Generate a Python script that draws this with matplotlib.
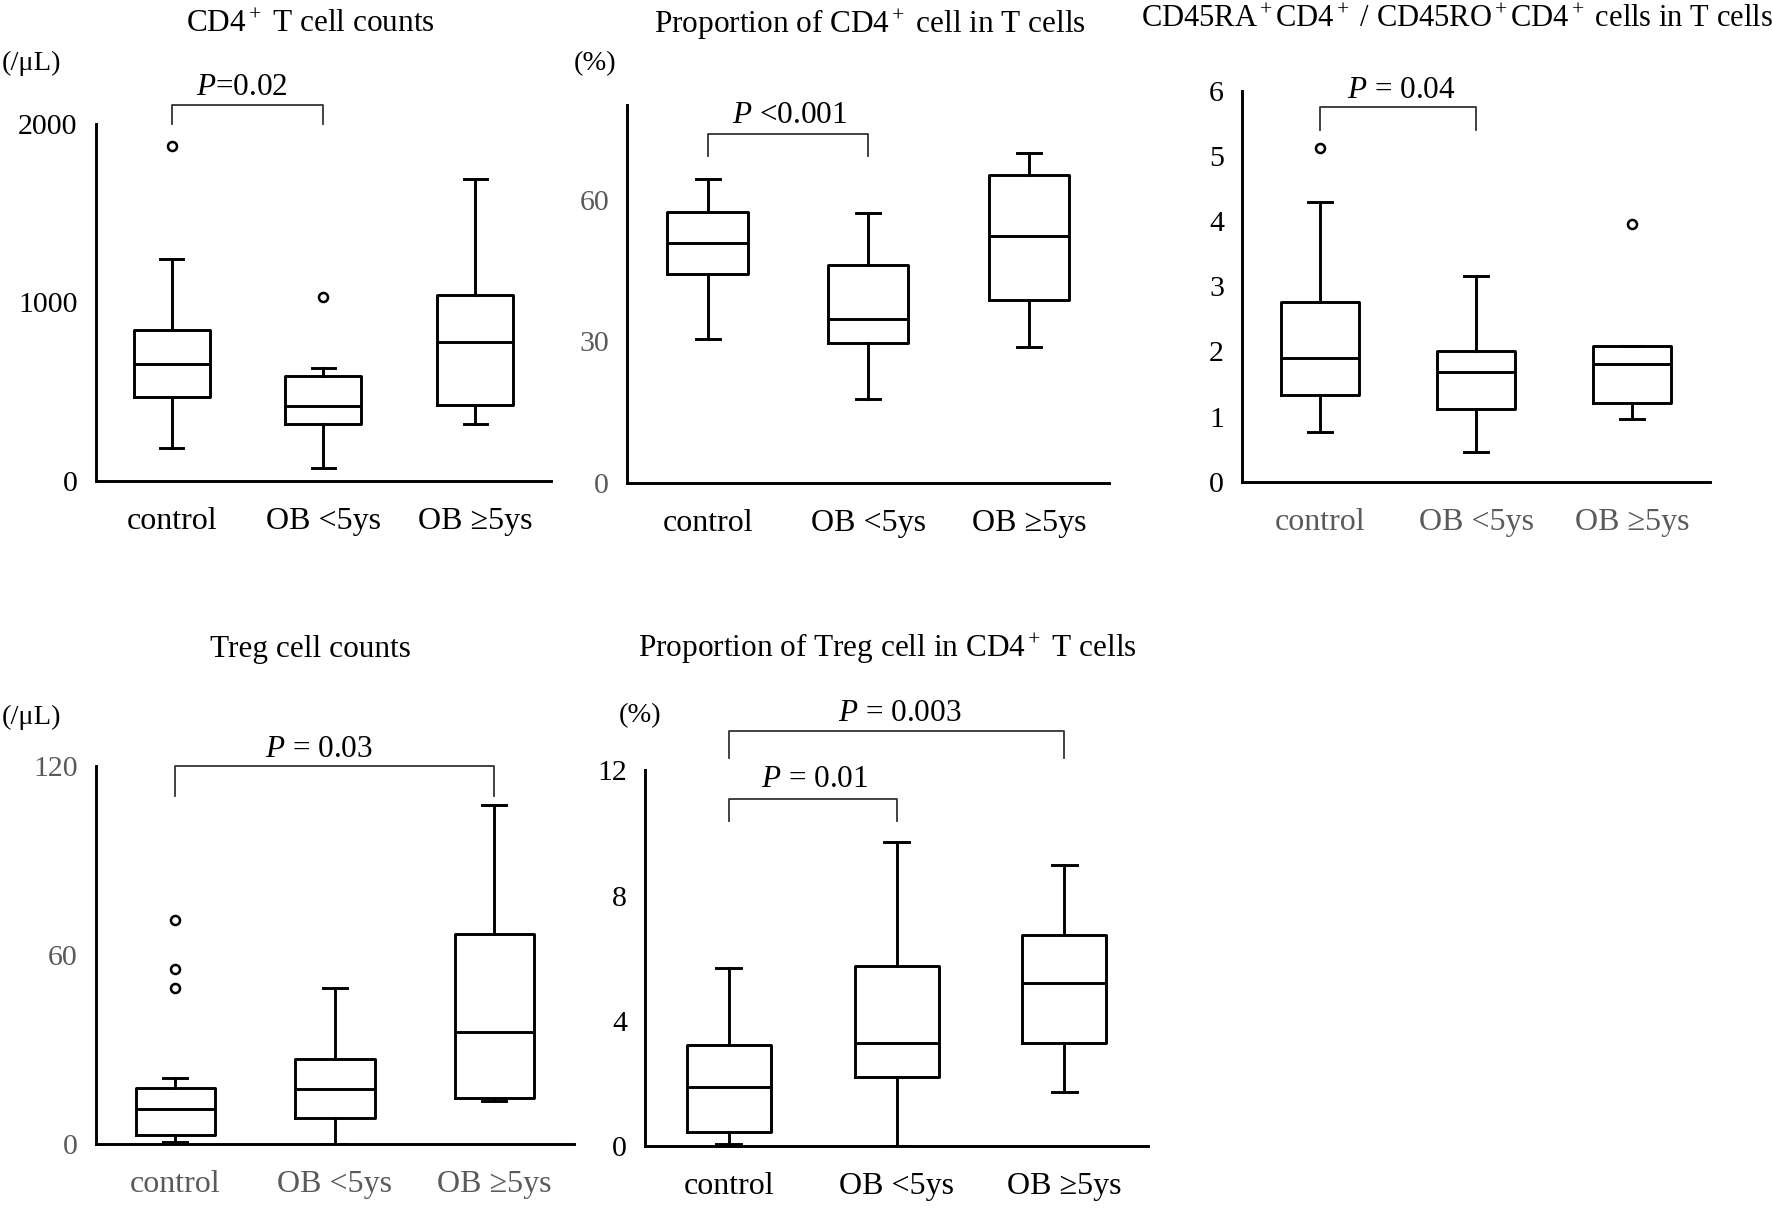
import matplotlib
matplotlib.use('Agg')
from matplotlib import pyplot as plt

# Fonts: Times-like serif everywhere, italic P through mathtext
plt.rcParams['font.family'] = ['Liberation Serif', 'DejaVu Serif']
plt.rcParams['mathtext.fontset'] = 'custom'
plt.rcParams['mathtext.rm'] = 'Liberation Serif'
plt.rcParams['mathtext.it'] = 'Liberation Serif:italic'

GROUPS = ['control', 'OB <5ys', 'OB \u22655ys']

# CD4+ T cell counts (/uL)
CD4_COUNT_LO = [184, 68, 315]
CD4_COUNT_Q1 = [468, 319, 426]
CD4_COUNT_MED = [652, 416, 778]
CD4_COUNT_Q3 = [845, 586, 1039]
CD4_COUNT_HI = [1244, 629, 1692]
CD4_COUNT_FLIERS = [[1876], [1031], []]

# Proportion of CD4+ cell in T cells (%)
CD4_PROP_LO = [30.5, 17.9, 28.8]
CD4_PROP_Q1 = [44.2, 29.7, 38.8]
CD4_PROP_MED = [50.9, 34.7, 52.3]
CD4_PROP_Q3 = [57.4, 46.1, 65.2]
CD4_PROP_HI = [64.4, 57.2, 69.8]
CD4_PROP_FLIERS = [[], [], []]

# CD45RA+CD4+ / CD45RO+CD4+ ratio
RATIO_LO = [0.77, 0.46, 0.96]
RATIO_Q1 = [1.33, 1.12, 1.21]
RATIO_MED = [1.90, 1.68, 1.80]
RATIO_Q3 = [2.75, 2.00, 2.08]
RATIO_HI = [4.29, 3.15, 2.08]
RATIO_FLIERS = [[5.12], [], [3.96]]

# Treg cell counts (/uL)
TREG_COUNT_LO = [0.6, 0.0, 13.7]
TREG_COUNT_Q1 = [2.7, 8.4, 14.6]
TREG_COUNT_MED = [11.2, 17.6, 35.5]
TREG_COUNT_Q3 = [17.8, 27.0, 66.7]
TREG_COUNT_HI = [21.0, 49.4, 107.6]
TREG_COUNT_FLIERS = [[71.1, 55.5, 49.6], [], []]

# Proportion of Treg cell in CD4+ T cells (%)
TREG_PROP_LO = [0.07, 0.0, 1.72]
TREG_PROP_Q1 = [0.43, 2.21, 3.29]
TREG_PROP_MED = [1.87, 3.28, 5.21]
TREG_PROP_Q3 = [3.23, 5.74, 6.75]
TREG_PROP_HI = [5.68, 9.71, 8.97]
TREG_PROP_FLIERS = [[], [], []]

# Significance brackets: (from group, to group, bar height, drop, label, label x, label y)
CD4_COUNT_P = [(1, 2, 2105, 105, r'$P$=0.02', 1.46, 2203)]
CD4_PROP_P = [(1, 2, 73.9, 4.6, r'$P$ <0.001', 1.51, 77.9)]
RATIO_P = [(1, 2, 5.74, 0.34, r'$P$ = 0.04', 1.52, 6.0)]
TREG_COUNT_P = [(1, 3, 120, 9.4, r'$P$ = 0.03', 1.9, 125.3)]
TREG_PROP_P = [(1, 2, 11.1, 0.7, r'$P$ = 0.01', 1.51, 11.72),
               (1, 3, 13.26, 0.86, r'$P$ = 0.003', 2.02, 13.83)]


def make_stats(lo, q1, med, q3, hi, fliers):
    return [{'whislo': lo[i], 'q1': q1[i], 'med': med[i], 'q3': q3[i],
             'whishi': hi[i], 'fliers': fliers[i]} for i in range(len(med))]


def draw_panel(ax, stats, ylim, yticks, brackets, ytick_color='black', xtick_color='black'):
    line = dict(color='black', linewidth=2.1)
    ax.bxp(stats, positions=[1, 2, 3], widths=0.5, capwidths=0.15,
           boxprops=line, whiskerprops=line, capprops=line, medianprops=line,
           flierprops=dict(marker='o', markersize=6.5, markerfacecolor='white',
                           markeredgecolor='black', markeredgewidth=1.8))

    ax.set_xlim(0.5, 3.5)
    ax.set_ylim(*ylim)
    ax.set_yticks(yticks)
    ax.set_xticks([1, 2, 3])
    ax.set_xticklabels(GROUPS)
    ax.tick_params(axis='y', length=0, pad=13, labelsize=21.5, labelcolor=ytick_color)
    ax.tick_params(axis='x', length=0, pad=19, labelsize=23, labelcolor=xtick_color)

    for side in ['top', 'right']:
        ax.spines[side].set_visible(False)
    for side in ['left', 'bottom']:
        ax.spines[side].set_linewidth(2.1)

    # P value brackets
    for x1, x2, y, drop, label, tx, ty in brackets:
        ax.plot([x1, x1, x2, x2], [y - drop, y, y, y - drop], color='#333333',
                lw=1.3, clip_on=False)
        ax.text(tx, ty, label, ha='center', va='center', fontsize=22.5, clip_on=False)


def main():
    fig = plt.figure(figsize=(17.72, 12.23), dpi=100)

    ax1 = fig.add_axes([0.054, 0.607, 0.257, 0.292])
    draw_panel(ax1, make_stats(CD4_COUNT_LO, CD4_COUNT_Q1, CD4_COUNT_MED, CD4_COUNT_Q3,
                               CD4_COUNT_HI, CD4_COUNT_FLIERS),
               (0, 2000), [0, 1000, 2000], CD4_COUNT_P)

    ax2 = fig.add_axes([0.354, 0.605, 0.272, 0.309])
    draw_panel(ax2, make_stats(CD4_PROP_LO, CD4_PROP_Q1, CD4_PROP_MED, CD4_PROP_Q3,
                               CD4_PROP_HI, CD4_PROP_FLIERS),
               (0, 80), [0, 30, 60], CD4_PROP_P, ytick_color='#5a5a5a')

    ax3 = fig.add_axes([0.701, 0.606, 0.264, 0.320])
    draw_panel(ax3, make_stats(RATIO_LO, RATIO_Q1, RATIO_MED, RATIO_Q3,
                               RATIO_HI, RATIO_FLIERS),
               (0, 6), [0, 1, 2, 3, 4, 5, 6], RATIO_P, xtick_color='#5a5a5a')

    ax4 = fig.add_axes([0.054, 0.0646, 0.270, 0.309])
    draw_panel(ax4, make_stats(TREG_COUNT_LO, TREG_COUNT_Q1, TREG_COUNT_MED, TREG_COUNT_Q3,
                               TREG_COUNT_HI, TREG_COUNT_FLIERS),
               (0, 120), [0, 60, 120], TREG_COUNT_P, ytick_color='#5a5a5a', xtick_color='#5a5a5a')

    ax5 = fig.add_axes([0.364, 0.063, 0.284, 0.307])
    draw_panel(ax5, make_stats(TREG_PROP_LO, TREG_PROP_Q1, TREG_PROP_MED, TREG_PROP_Q3,
                               TREG_PROP_HI, TREG_PROP_FLIERS),
               (0, 12), [0, 4, 8, 12], TREG_PROP_P)

    # Panel titles
    fig.text(0.175, 0.980, r'CD4$^+$ T cell counts', ha='center', va='center', fontsize=22.5)
    fig.text(0.491, 0.980, r'Proportion of CD4$^+$ cell in T cells', ha='center', va='center', fontsize=22.5)
    fig.text(0.822, 0.984, r'CD45RA$^+$CD4$^+$ / CD45RO$^+$CD4$^+$ cells in T cells',
             ha='center', va='center', fontsize=22)
    fig.text(0.175, 0.469, 'Treg cell counts', ha='center', va='center', fontsize=22.5)
    fig.text(0.501, 0.469, r'Proportion of Treg cell in CD4$^+$ T cells', ha='center', va='center', fontsize=22.5)

    # Unit labels
    fig.text(0.018, 0.948, '(/\u03bcL)', ha='center', va='center', fontsize=20.5)
    fig.text(0.336, 0.948, '(%)', ha='center', va='center', fontsize=20.5)
    fig.text(0.018, 0.413, '(/\u03bcL)', ha='center', va='center', fontsize=20.5)
    fig.text(0.361, 0.415, '(%)', ha='center', va='center', fontsize=20.5)

    fig.savefig('out.png', dpi=100, facecolor='white')


if __name__ == '__main__':
    main()
